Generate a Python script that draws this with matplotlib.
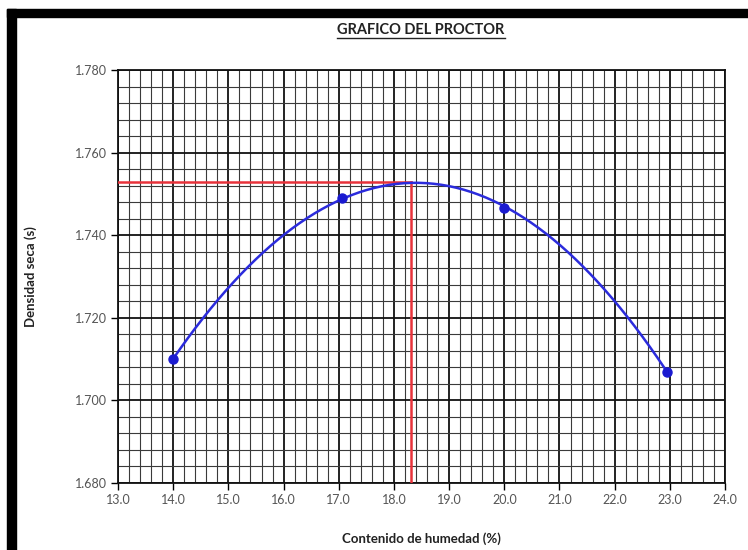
import numpy as np
import matplotlib.pyplot as plt
from matplotlib.lines import Line2D
from matplotlib.patches import Rectangle
from matplotlib.ticker import MultipleLocator, FormatStrFormatter

# datos del ensayo proctor
humedad = [14.0, 17.05, 20.0, 22.95]
densidad = [1.710, 1.749, 1.7467, 1.707]
# optimo
hum_opt = 18.31
dens_max = 1.7529

plt.rcParams['font.family'] = ['Lato', 'DejaVu Sans']

fig = plt.figure(figsize=(7.48, 5.5), dpi=100)
ax = fig.add_axes([0.1578, 0.1218, 0.8115, 0.7509])

# curva de ajuste (polinomio de 2do grado, como la linea de tendencia)
coef = np.polyfit(humedad, densidad, 2)
xs = np.linspace(humedad[0], humedad[-1], 200)
ax.plot(xs, np.polyval(coef, xs), color='#2b2bdc', linewidth=1.8, zorder=4)
ax.plot(humedad, densidad, 'o', color='#1a1ad0', markersize=6.5, zorder=5)

# lineas del optimo
ax.plot([13.0, hum_opt], [dens_max, dens_max], color='#e8323a', linewidth=1.8, zorder=3)
ax.plot([hum_opt, hum_opt], [1.680, dens_max], color='#e8323a', linewidth=1.8, zorder=3)

ax.set_xlim(13.0, 24.0)
ax.set_ylim(1.680, 1.780)
ax.xaxis.set_major_locator(MultipleLocator(1.0))
ax.xaxis.set_minor_locator(MultipleLocator(0.2))
ax.yaxis.set_major_locator(MultipleLocator(0.02))
ax.yaxis.set_minor_locator(MultipleLocator(0.004))
ax.xaxis.set_major_formatter(FormatStrFormatter('%.1f'))
ax.yaxis.set_major_formatter(FormatStrFormatter('%.3f'))
ax.grid(True, which='major', color='#111111', linewidth=1.3)
ax.grid(True, which='minor', color='#3a3a3a', linewidth=0.8)
ax.set_axisbelow(True)
ax.tick_params(which='major', length=5, width=1, labelsize=9, labelcolor='#555555', pad=3)
ax.tick_params(which='minor', length=0)
for s in ax.spines.values():
    s.set_color('#111111')
    s.set_linewidth(1.3)

ax.set_xlabel('Contenido de humedad (%)', fontsize=9.5, fontweight='bold', labelpad=19,
              color='#222222')
ax.set_ylabel('Densidad seca (s)', fontsize=9.5, fontweight='bold', labelpad=27,
              color='#222222')

# titulo subrayado
t = fig.text(0.5628, 0.945, 'GRAFICO DEL PROCTOR', ha='center', va='center',
             fontsize=10.5, fontweight='bold', color='#222222')
fig.canvas.draw()
bb = t.get_window_extent().transformed(fig.transFigure.inverted())
fig.add_artist(Line2D([bb.x0, bb.x1], [bb.y0 - 0.002, bb.y0 - 0.002],
                      transform=fig.transFigure, color='#222222', linewidth=1))

# marco negro
fig.add_artist(Rectangle((7 / 748, 0), 9 / 748, 1 - 9 / 550, transform=fig.transFigure,
                         color='black', zorder=10))
fig.add_artist(Rectangle((7 / 748, 1 - 17 / 550), 1, 8 / 550, transform=fig.transFigure,
                         color='black', zorder=10))

fig.savefig('out.png', dpi=100)
